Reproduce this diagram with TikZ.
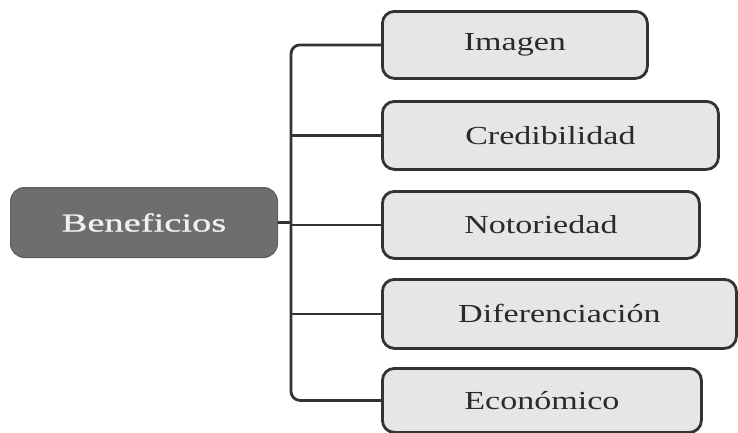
\documentclass[tikz,border=0pt]{standalone}
\usepackage{fontspec}
\setmainfont[FakeStretch=1.31]{Liberation Serif}
\newfontfamily\benfont[FakeStretch=1.48,FakeBold=1]{Liberation Serif}
\definecolor{boxfill}{HTML}{E6E6E6}
\definecolor{boxline}{HTML}{333333}
\definecolor{benfill}{HTML}{6E6E6E}
\definecolor{txt}{HTML}{2A2A2A}
\tikzset{
  item/.style={draw=boxline, line width=2.8pt, fill=boxfill, rounded corners=12pt,
    anchor=north west, inner sep=0pt, text=txt, font=\fontsize{26}{30}\selectfont},
  root/.style={fill=benfill, draw=benfill!85!black, line width=1pt, rounded corners=14pt,
    anchor=north west, inner sep=0pt, text=white!94!black, font=\benfont\fontsize{26}{30}\selectfont},
  link/.style={draw=boxline, line width=2.8pt},
}
\begin{document}
\begin{tikzpicture}[x=1pt,y=-1pt]
\useasboundingbox (0,0) rectangle (738,432);
\node[root, minimum width=267pt, minimum height=70pt] (ben) at (10,187) {Beneficios};
\node[item, minimum width=265pt, minimum height=67pt] (img) at (381,10) {Imagen};
\node[item, minimum width=336pt, minimum height=68pt] (cred) at (381,100) {Credibilidad};
\node[item, minimum width=317pt, minimum height=67pt] (not) at (381,190) {Notoriedad};
\node[item, minimum width=354pt, minimum height=69pt] (dif) at (381,278) {Diferenciación};
\node[item, minimum width=319pt, minimum height=64pt] (eco) at (381,367) {Económico};
\coordinate (tr) at (291,0);
\draw[link, rounded corners=9pt] (img.west) -- (img.west -| tr) -- (eco.west -| tr) -- (eco.west);
\draw[link] (cred.west) -- (cred.west -| tr);
\draw[link] (not.west) -- (not.west -| tr);
\draw[link] (dif.west) -- (dif.west -| tr);
\draw[link] (ben.east) -- (ben.east -| tr);
\end{tikzpicture}
\end{document}
